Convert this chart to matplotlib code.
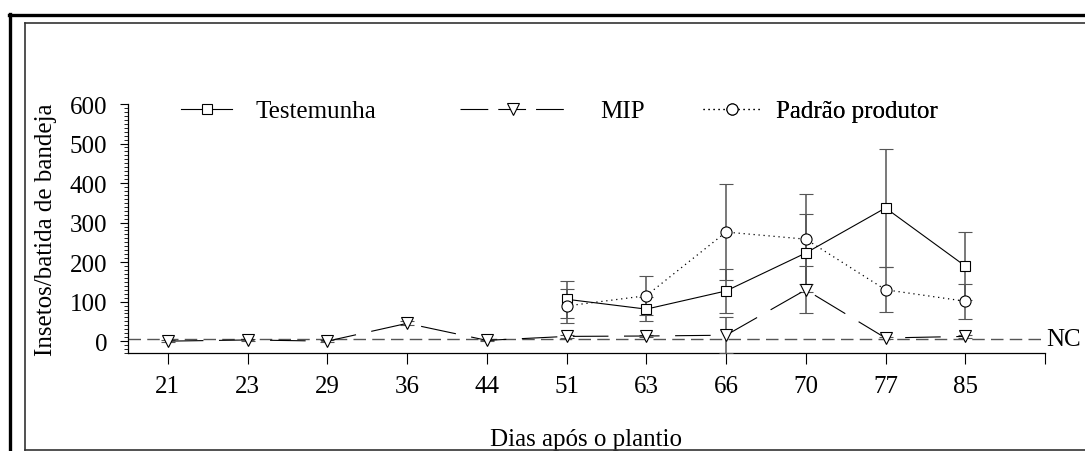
import matplotlib.pyplot as plt
import numpy as np
from matplotlib.lines import Line2D
from matplotlib.ticker import MultipleLocator

plt.rcParams['font.family'] = ['Liberation Serif', 'DejaVu Serif']
plt.rcParams['font.size'] = 18

# dias apos o plantio (eixo categorico)
dias = ['21', '23', '29', '36', '44', '51', '63', '66', '70', '77', '85']

# MIP: todas as datas
mip = [0, 3, 0, 45, 2, 12, 13, 15, 130, 8, 12]
mip_err = [2, 2, 2, 5, 2, 3, 3, 45, 60, 3, 3]

# Testemunha e padrao produtor: a partir de 51 dias
testemunha = [106, 81, 127, 223, 337, 190]
testemunha_err = [47, 30, 55, 99, 150, 85]
padrao = [89, 115, 276, 258, 130, 101]
padrao_err = [43, 50, 121, 114, 57, 44]

nc = 5  # nivel de controle

x_all = np.arange(len(dias))
x_late = x_all[5:]

fig = plt.figure(figsize=(10.85, 4.52), dpi=100)
ax = fig.add_axes([128 / 1085, 1 - 354 / 452, (1045 - 128) / 1085, (354 - 105) / 452])

ebar_kw = dict(ecolor='#555555', elinewidth=1.1, capsize=5, capthick=1.1)

ax.axhline(nc, color='#555555', lw=1.0, dashes=(9, 4.5), zorder=1)

ax.errorbar(x_late, testemunha, yerr=testemunha_err, color='black', lw=0.8,
            marker='s', ms=7, mfc='white', mec='black', mew=0.8, zorder=3, **ebar_kw)
ax.errorbar(x_all, mip, yerr=mip_err, color='black', lw=0.8, dashes=(32, 14),
            marker='v', ms=8, mfc='white', mec='black', mew=0.8, zorder=3, **ebar_kw)
ax.errorbar(x_late, padrao, yerr=padrao_err, color='black', lw=0.9, dashes=(1, 3),
            marker='o', ms=8, mfc='white', mec='black', mew=0.8, zorder=3, **ebar_kw)

ax.set_xlim(-0.5, len(dias))
ax.set_ylim(-30, 600)
ax.set_xticks(np.arange(len(dias) + 1))
ax.set_xticklabels(dias + [''])
ax.set_yticks(np.arange(0, 601, 100))
ax.yaxis.set_minor_locator(MultipleLocator(10))
ax.tick_params(axis='x', direction='out', length=8, width=0.8, pad=8)
ax.tick_params(axis='y', which='major', direction='out', length=6, width=0.8, pad=9)
ax.tick_params(axis='y', which='minor', direction='out', length=3, width=0.6)
for side in ['top', 'right']:
    ax.spines[side].set_visible(False)
for side in ['left', 'bottom']:
    ax.spines[side].set_linewidth(0.9)

ax.set_xlabel('Dias após o plantio', labelpad=22)
ax.set_ylabel('Insetos/batida de bandeja', labelpad=9)

ax.text(len(dias) + 0.02, nc, 'NC', ha='left', va='center', clip_on=False)

# legenda em tres blocos separados
h_test = Line2D([], [], color='black', lw=0.8, marker='s', ms=7, mfc='white', mec='black', mew=0.8)
h_mip = Line2D([], [], color='black', lw=0.8, dashes=(25, 9), marker='v', ms=8, mfc='white', mec='black', mew=0.8)
h_pad = Line2D([], [], color='black', lw=0.9, dashes=(1, 3), marker='o', ms=8, mfc='white', mec='black', mew=0.8)

leg_y = (354 - 112) / (354 - 105)
entries = [
    (h_test, 'Testemunha', 181, 2.04, 0.92),
    (h_mip, 'MIP', 460, 4.2, 1.4),
    (h_pad, 'Padrão produtor', 703, 2.28, 0.64),
]
for handle, label, px, hl, hp in entries:
    leg = ax.legend([handle], [label], loc='center left',
                    bbox_to_anchor=((px - 128) / 917, leg_y), frameon=False,
                    borderpad=0, borderaxespad=0, handlelength=hl, handletextpad=hp,
                    fontsize=18)
    ax.add_artist(leg)

# molduras externas
W, H = 1085, 452
def fx(p):
    return p / W
def fy(p):
    return 1 - p / H

fig.add_artist(Line2D([fx(9.5), fx(9.5)], [fy(15), fy(460)], color='black', lw=2.4))
fig.add_artist(Line2D([fx(8.5), fx(1090)], [fy(15.5), fy(15.5)], color='black', lw=2.4))
fig.add_artist(Line2D([fx(25), fx(25)], [fy(23.5), fy(450.5)], color='#333333', lw=1.2))
fig.add_artist(Line2D([fx(25), fx(1090)], [fy(23.5), fy(23.5)], color='#333333', lw=1.2))
fig.add_artist(Line2D([fx(25), fx(1090)], [fy(450.5), fy(450.5)], color='#333333', lw=1.2))

fig.savefig('out.png', dpi=100)
